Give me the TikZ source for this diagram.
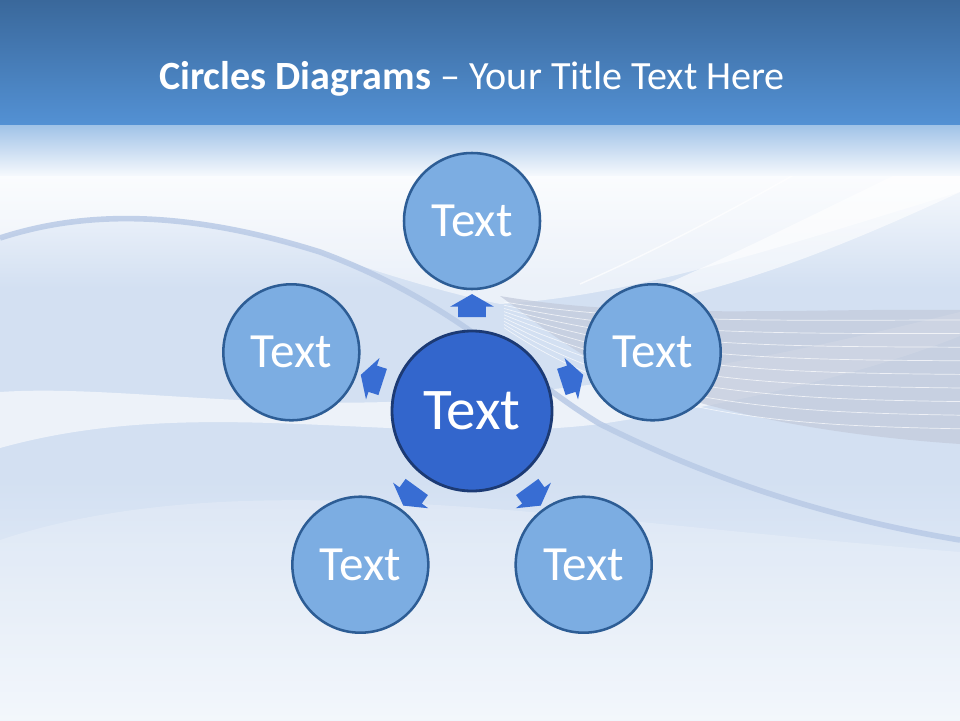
\documentclass[tikz,border=0pt]{standalone}
\usepackage{fontspec}
\setmainfont{Carlito}
\usepackage{xcolor}
\usetikzlibrary{positioning, calc, shapes.arrows}

\definecolor{headtop}{HTML}{3A689B}
\definecolor{headbot}{HTML}{5391D4}
\definecolor{bodytop}{HTML}{F6F9FD}
\definecolor{bodymid}{HTML}{D3E0F2}
\definecolor{bodybot}{HTML}{F0F5FB}
\definecolor{leaffill}{HTML}{7CADE2}
\definecolor{leafline}{HTML}{2D5D95}
\definecolor{hubfill}{HTML}{3366CC}
\definecolor{hubline}{HTML}{1C3A74}
\definecolor{pointerfill}{HTML}{386DD3}
\definecolor{swoosh}{HTML}{B9CAE6}
\definecolor{haze}{HTML}{C3CBDC}

\tikzset{
    leaf/.style={circle, fill=leaffill, draw=leafline, line width=1.8pt,
        minimum size=3.4cm, inner sep=0pt, text=white, font=\fontsize{35}{38}\selectfont},
    hub/.style={circle, fill=hubfill, draw=hubline, line width=2pt,
        minimum size=4cm, inner sep=0pt, text=white, font=\fontsize{42}{46}\selectfont},
    pointer/.style={single arrow, fill=pointerfill, draw=none,
        inner xsep=0pt, inner ysep=0.3375cm,
        minimum height=0.575cm, single arrow head extend=0.2cm, single arrow tip angle=120},
}

\begin{document}
\begin{tikzpicture}
    \useasboundingbox (0,0) rectangle (24,18);
    % background
    \fill[bodymid] (0,0) rectangle (24,14.875);
    \shade[top color=bodymid, bottom color=bodybot] (0,6) rectangle (24,0);
    \shade[top color=bodytop, bottom color=bodymid] (0,13.6) rectangle (24,10.8);
    \fill[white, opacity=0.55] (0,12.05) .. controls (2,12.7) and (4.5,12.8) .. (8,11.7)
        .. controls (10,11) and (11.5,10.6) .. (12.5,10.4) .. controls (16,10.6) and (20,12) .. (24,13.2)
        -- (24,13.6) -- (0,13.6) -- cycle;
    \fill[white, opacity=0.6] (0,6.8) .. controls (5,8.2) and (10,6.8) .. (15,7.4)
        .. controls (19,8) and (22,8.8) .. (24,9.6) -- (24,10.2)
        .. controls (20,9.2) and (16,8.4) .. (12,8.1) .. controls (7,7.6) and (3,8.4) .. (0,8.2) -- cycle;
    \fill[white, opacity=0.2] (0,4.5) .. controls (6,6.5) and (14,5) .. (24,4.2) -- (24,0) -- (0,0) -- cycle;
    \fill[haze, opacity=0.75] (12.5,10.6) .. controls (16,10) and (20,10.3) .. (24,10.25)
        -- (24,6.9) .. controls (21,7.1) and (18,7.6) .. (15.5,8.6) .. controls (14,9.4) and (13.2,10.1) .. (12.5,10.6) -- cycle;
    \foreach \k in {0,...,8}
        \draw[white, opacity=0.7, line width=0.5pt]
            (12.6,10.45-0.08*\k) .. controls (16,9.9-0.3*\k) and (20,10.0-0.33*\k) .. (24,10.0-0.34*\k);
    \fill[white, opacity=0.6] (15,10.2) .. controls (18,11.4) and (21,13) .. (24,14.4)
        -- (24,13.2) .. controls (21,11.8) and (18,10.6) .. (15,10.2) -- cycle;
    \draw[white, opacity=0.7, line width=1pt] (14.5,10.9) .. controls (17,12) and (19.5,13.4) .. (22,14.875);
    \draw[swoosh, line width=4pt, opacity=0.85] (0,12.05) .. controls (2,12.7) and (4.5,12.8) .. (8,11.7)
        .. controls (11.5,10.4) and (13,8.6) .. (15,7.4) .. controls (18,5.9) and (21,5) .. (24,4.5);
    \shade[top color=headbot!55!white, bottom color=bodytop] (0,14.875) rectangle (24,13.6);
    \shade[top color=headtop, bottom color=headbot] (0,18) rectangle (24,14.875);
    % title
    \node[text=white, font=\fontsize{28.5}{32}\selectfont, anchor=base] (title) at (11.8,15.75)
        {\textbf{Circles Diagrams} – Your Title Text Here};
    % circles
    \node[hub] (hub) at (11.8,7.725) {Text};
    \foreach \a [count=\i] in {90,18,-54,-126,162}
        \node[leaf] (leaf\i) at ($(hub)+(\a:4.75)$) {Text};
    % arrows
    \foreach \a [count=\i] in {90,18,-54,-126,162}
        \node[pointer, rotate=\a] (ptr\i) at ($(hub)!0.534!(leaf\i)$) {};
\end{tikzpicture}
\end{document}
